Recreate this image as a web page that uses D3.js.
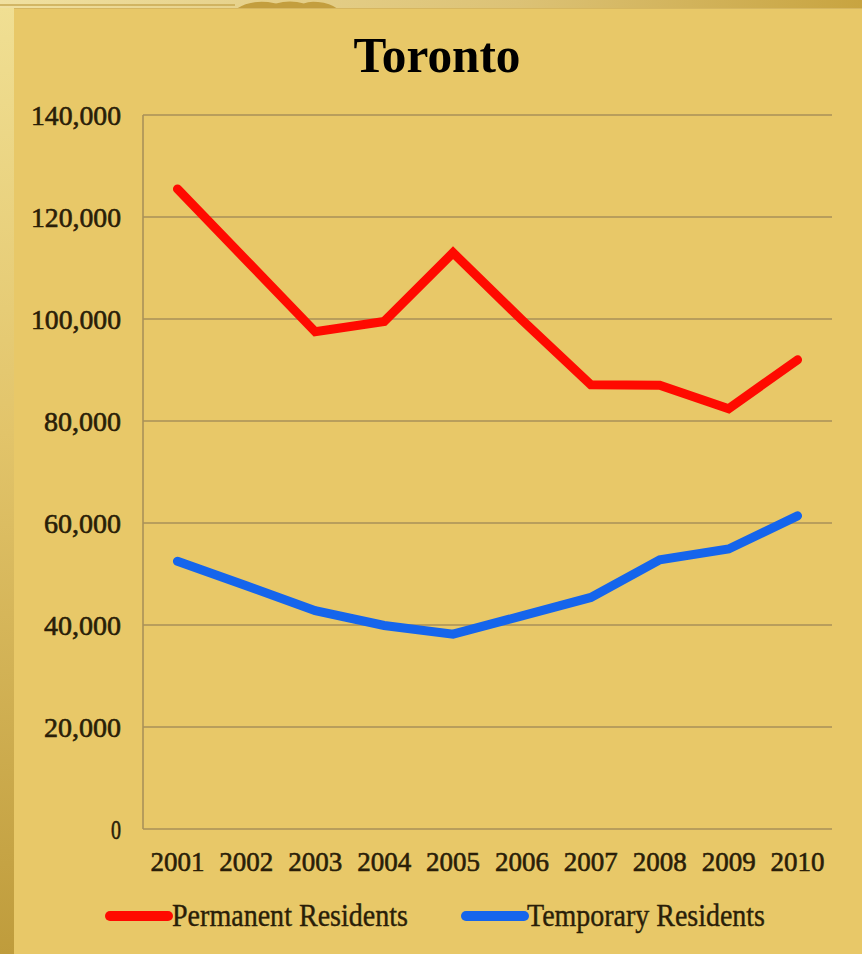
<!DOCTYPE html>
<html><head><meta charset="utf-8">
<script src="https://cdn.jsdelivr.net/npm/d3@7"></script>
<style>html,body{margin:0;padding:0;background:#E8C868;}svg{display:block;}</style>
</head><body>
<svg id="chart" width="862" height="954"></svg>
<script>
const years = ["2001","2002","2003","2004","2005","2006","2007","2008","2009","2010"];
const permanent = [125500, 111500, 97500, 99500, 113000, 99800, 87100, 87000, 82400, 92000];
const temporary = [52500, 47700, 42800, 39900, 38200, 41800, 45400, 52800, 54900, 61400];
const yTicks = [0, 20000, 40000, 60000, 80000, 100000, 120000, 140000];
const seriesNames = ["Permanent Residents", "Temporary Residents"];
const seriesColors = ["#FF0A00", "#1565EC"];
const title = "Toronto";

const svg = d3.select("#chart");
const W = 862, H = 954;
const serif = "'Liberation Serif','Times New Roman',serif";
const ink = "#2A1E08";

// background decorations
const defs = svg.append("defs");
const lg = defs.append("linearGradient").attr("id","leftStrip").attr("x1",0).attr("y1",0).attr("x2",0).attr("y2",1);
lg.append("stop").attr("offset","0%").attr("stop-color","#F0DF93");
lg.append("stop").attr("offset","45%").attr("stop-color","#E2C46A");
lg.append("stop").attr("offset","100%").attr("stop-color","#BF9C3C");
const tg = defs.append("linearGradient").attr("id","topStrip").attr("x1",0).attr("y1",0).attr("x2",1).attr("y2",0);
tg.append("stop").attr("offset","0%").attr("stop-color","#F0E0A0");
tg.append("stop").attr("offset","60%").attr("stop-color","#DCC276");
tg.append("stop").attr("offset","100%").attr("stop-color","#C8A440");

svg.append("rect").attr("x",0).attr("y",0).attr("width",W).attr("height",H).attr("fill","#E8C868");
svg.append("rect").attr("x",0).attr("y",0).attr("width",W).attr("height",8).attr("fill","url(#topStrip)");
svg.append("line").attr("x1",0).attr("x2",235).attr("y1",5).attr("y2",5).attr("stroke","#C9A952").attr("stroke-width",1.5);
svg.append("path").attr("d","M236,9 Q250,0 268,2 Q282,4 290,9 Z M296,9 Q304,0 318,2 Q330,3 338,9 Z M262,9 Q290,-6 318,9 Z").attr("fill","#C39E3E");
svg.append("rect").attr("x",0).attr("y",8).attr("width",14).attr("height",H-8).attr("fill","url(#leftStrip)");
svg.append("line").attr("x1",14).attr("x2",W).attr("y1",8.5).attr("y2",8.5).attr("stroke","#D6B660").attr("stroke-width",1);

// scales
const margin = {left:143, right:832, top:115, bottom:829};
const x = d3.scaleBand().domain(years).range([margin.left, margin.right]).padding(0);
const y = d3.scaleLinear().domain([0,140000]).range([margin.bottom, margin.top]);

// gridlines
const gridColor = "#A99158";
svg.append("g").selectAll("line").data(yTicks).join("line")
  .attr("x1", margin.left).attr("x2", margin.right)
  .attr("y1", d=>y(d)).attr("y2", d=>y(d))
  .attr("stroke", gridColor).attr("stroke-width",1.6);
svg.append("line").attr("x1",margin.left).attr("x2",margin.left)
  .attr("y1",margin.top).attr("y2",margin.bottom)
  .attr("stroke",gridColor).attr("stroke-width",1.6);

// y axis labels
const yAxis = d3.axisLeft(y).tickValues(yTicks).tickFormat(d3.format(",")).tickSize(0).tickPadding(22);
const gy = svg.append("g").attr("transform",`translate(${margin.left},0)`).call(yAxis);
gy.select(".domain").remove();
gy.selectAll("text").attr("font-family",serif).attr("font-size",27).attr("fill",ink)
  .attr("stroke",ink).attr("stroke-width",0.6).attr("dy","0.35em")
  .attr("textLength",d=>d===0?10:(d<100000?77:90)).attr("lengthAdjust","spacingAndGlyphs");

// x axis labels
const xAxis = d3.axisBottom(x).tickSize(0).tickPadding(22);
const gx = svg.append("g").attr("transform",`translate(0,${margin.bottom})`).call(xAxis);
gx.select(".domain").remove();
gx.selectAll("text").attr("font-family",serif).attr("font-size",28).attr("fill",ink)
  .attr("stroke",ink).attr("stroke-width",0.6)
  .attr("textLength",54).attr("lengthAdjust","spacingAndGlyphs");

// lines
const line = d3.line().x((d,i)=>x(years[i]) + x.bandwidth()/2).y(d=>y(d));
[permanent, temporary].forEach((s,k)=>{
  svg.append("path").datum(s).attr("d",line).attr("fill","none")
    .attr("stroke",seriesColors[k]).attr("stroke-width",9)
    .attr("stroke-linejoin","miter").attr("stroke-linecap","round");
});

// title
svg.append("text").attr("x",437).attr("y",72).attr("text-anchor","middle")
  .attr("font-family",serif).attr("font-weight","bold").attr("font-size",50)
  .attr("textLength",167).attr("lengthAdjust","spacingAndGlyphs")
  .attr("fill","#000").text(title);

// legend
const legendItems = [
  {x1:110, x2:168, tx:172, tw:236},
  {x1:466, x2:524, tx:527, tw:238}
];
legendItems.forEach((it,k)=>{
  svg.append("line").attr("x1",it.x1).attr("x2",it.x2).attr("y1",916).attr("y2",916)
    .attr("stroke",seriesColors[k]).attr("stroke-width",10).attr("stroke-linecap","round");
  svg.append("text").attr("x",it.tx).attr("y",926).attr("font-family",serif).attr("font-size",31)
    .attr("fill",ink).attr("stroke",ink).attr("stroke-width",0.4)
    .attr("textLength",it.tw).attr("lengthAdjust","spacingAndGlyphs")
    .text(seriesNames[k]);
});
</script>
</body></html>
